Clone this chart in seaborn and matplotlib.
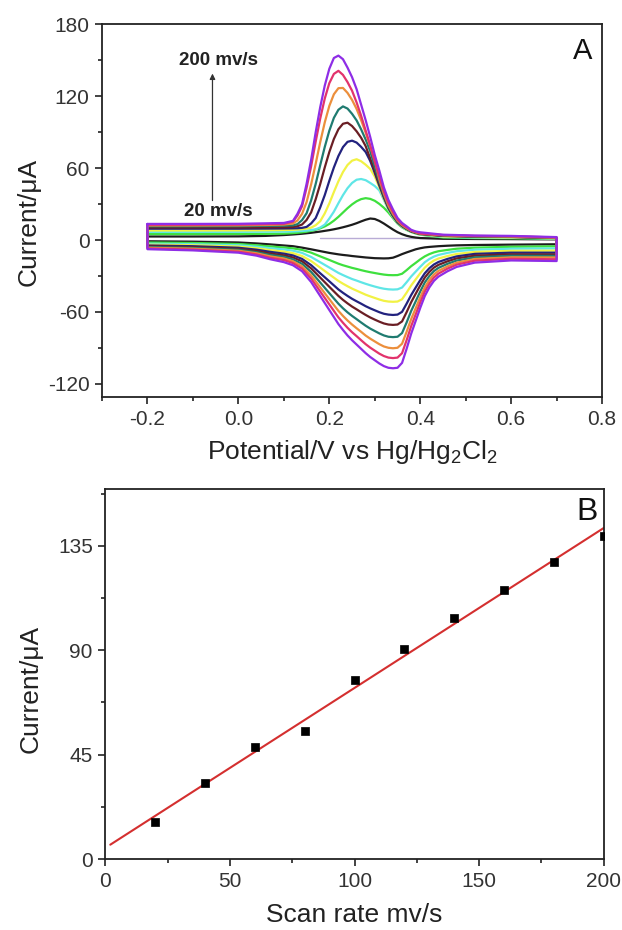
"""
Cyclic voltammograms at scan rates 20-200 mV/s (A) and the
peak current vs scan rate with a linear fit (B).
Saves out.png
"""

import numpy as np
import pandas as pd
import matplotlib
matplotlib.use("Agg")
import matplotlib.pyplot as plt
import seaborn as sns
from matplotlib.ticker import MultipleLocator, FormatStrFormatter

# -------------------------------
# Panel A data
# -------------------------------
SCAN_RATES = [20, 40, 60, 80, 100, 120, 140, 160, 180, 200]
CV_COLORS = ["#1c1c1c", "#3ee03e", "#5fe6e6", "#f2f244", "#22227e",
             "#6a1e24", "#1f7b70", "#ec8f3c", "#e2336c", "#8e2de6"]

# forward (anodic) sweep potentials, V
FWD_X = [-0.20, -0.10, 0.00, 0.06, 0.10,
         0.12, 0.13, 0.14, 0.15, 0.16, 0.17, 0.18, 0.19, 0.20, 0.21,
         0.22, 0.23, 0.24, 0.25, 0.26, 0.27, 0.28, 0.29, 0.30, 0.31,
         0.32, 0.33, 0.34, 0.35, 0.36, 0.37, 0.38, 0.39, 0.40,
         0.45, 0.52, 0.60, 0.70]

# reverse (cathodic) sweep potentials, V
REV_X = [0.70, 0.60, 0.52, 0.48, 0.46,
         0.44, 0.43, 0.42, 0.41, 0.40, 0.39, 0.38, 0.37, 0.36, 0.35,
         0.34, 0.33, 0.32, 0.31, 0.30, 0.29, 0.28, 0.27, 0.26, 0.25,
         0.24, 0.23, 0.22,
         0.20, 0.18, 0.16, 0.14, 0.12, 0.10,
         0.07, 0.04, 0.00, -0.10, -0.20]

FWD_20 = [3.0, 3.0, 3.1, 3.5, 4.2,
          4.7, 5.0, 5.3, 5.7, 6.1, 6.6, 7.1, 7.7, 8.3, 9.0, 9.8, 10.7, 11.7, 12.8, 14.1,
          15.6, 17.0, 18.0, 17.6, 16.0, 13.8, 11.3, 8.8, 6.6, 4.9, 3.6, 2.7, 2.1, 1.7,
          1.1, 0.9, 0.8, 0.6]
FWD_40 = [5.0, 5.0, 5.1, 5.2, 5.4,
          5.8, 6.1, 6.5, 7.0, 7.7, 8.6, 9.8, 11.4, 13.5, 16.2, 19.4, 23, 26.6, 29.8, 32.4,
          34.2, 35, 34.4, 32.8, 30.2, 27, 23, 18.3, 13.8, 10.6, 8.5, 6.8, 5.5, 4.5,
          2.2, 1.7, 1.5, 1.0]
FWD_60 = [6.8, 6.8, 6.9, 7.0, 7.1,
          7.2, 7.4, 7.6, 7.9, 8.4, 9.0, 10.5, 12.9, 18, 23.7, 30.8, 37.5, 43.3, 47.7, 50.4,
          51, 50, 47.7, 45.1, 41.5, 33.5, 25.3, 19, 14.2, 11, 8.8, 7.0, 5.8, 4.9,
          2.6, 2.1, 1.9, 1.3]
FWD_80 = [8.0, 8.0, 8.1, 8.2, 8.4,
          8.6, 8.8, 9.1, 9.6, 10.4, 12.4, 15.8, 22.3, 30.6, 40.1, 49.1, 56.8, 62.7, 66.3, 67.5,
          65.8, 62.9, 59.4, 53, 44, 34.5, 26, 19.5, 14.5, 11.3, 9.0, 7.1, 5.9, 5.0,
          3.0, 2.5, 2.2, 1.5]
FWD_100 = [9.5, 9.5, 9.5, 9.6, 9.7,
           9.8, 9.9, 10.2, 11, 13.9, 18.4, 27.3, 37.6, 49.5, 60.6, 70.2, 77.6, 82, 83, 81.4,
           77.8, 73.5, 66, 56, 45.5, 35.5, 26.6, 20, 14.8, 11.6, 9.2, 7.2, 6.0, 5.1,
           3.5, 2.9, 2.6, 1.7]
FWD_120 = [10.5, 10.5, 10.5, 10.6, 10.7,
           10.9, 11.6, 13, 16.8, 23.2, 34.1, 46.8, 60.7, 73.5, 84.4, 92.5, 97.1, 98, 95.2, 90.8,
           85.4, 78.4, 68, 58, 47, 36.5, 27.3, 20.5, 15.2, 11.9, 9.4, 7.4, 6.1, 5.2,
           3.6, 3.0, 2.7, 1.8]
FWD_140 = [11.5, 11.5, 11.6, 11.9, 12.1,
           12.3, 13.3, 16.7, 22.4, 33.2, 46.9, 62.6, 77.8, 91.3, 102, 108.8, 111.6, 109.8, 105.4, 99.9,
           92.4, 83.9, 74.2, 61, 49, 37.5, 28, 21, 15.6, 12.2, 9.6, 7.6, 6.3, 5.4,
           3.8, 3.1, 2.8, 1.9]
FWD_160 = [12.2, 12.2, 12.3, 12.6, 13.0,
           13.8, 16.4, 21.9, 31.7, 46.5, 63.7, 81.8, 98.3, 112, 121.7, 126.8, 127, 122.9, 117, 109.5,
           100.1, 89.6, 78.3, 66.6, 51, 39, 29, 22, 16.3, 12.6, 10, 7.8, 6.5, 5.5,
           4.0, 3.3, 3.0, 2.0]
FWD_180 = [12.8, 12.8, 12.9, 13.3, 13.6,
           15.4, 20.5, 28.2, 43.6, 61.6, 82.2, 101.5, 118.2, 131, 138.7, 141.3, 137.9, 131.9, 124.7, 114.9,
           103.7, 91.3, 79, 65.2, 52.8, 40.5, 30.6, 23.4, 16.9, 13.1, 10.5, 7.9, 6.7, 5.4,
           4.2, 3.5, 3.2, 2.2]
FWD_200 = [13.5, 13.5, 13.6, 14.0, 14.3,
           16, 22, 30, 47, 67, 90, 111, 129, 143, 152, 154, 151, 144, 136, 126,
           113, 100, 86, 71, 58, 44, 33.5, 25.6, 18.5, 14.3, 11.5, 8.6, 7.2, 6.5,
           4.5, 3.8, 3.5, 2.5]

REV_20 = [-3.5, -3.8, -4.1, -4.4, -4.7,
          -5.1, -5.4, -5.7, -6.1, -6.8, -7.7, -9, -10.3, -11.7, -13.3, -14.7, -15.2, -15.3,
          -15.2, -15.1, -14.8, -14.5, -14.1, -13.7, -13.3, -12.8, -12.4, -11.9,
          -10.7, -9.2, -7.7, -6.3, -5.1, -4.5,
          -3.6, -2.8, -2.0, -1.3, -1.0]
REV_40 = [-5.2, -5.6, -6.3, -7.2, -8.2,
          -9.3, -10.3, -11.7, -13.6, -16.1, -19, -21.8, -25.1, -28.1, -29.2, -29.3, -29.2, -28.8,
          -28.2, -27.5, -26.8, -26, -25.1, -24.1, -23.2, -22.1, -21, -19.7,
          -16.6, -13.6, -10.5, -8.2, -6.9, -6.2,
          -5.3, -4.3, -3.3, -2.4, -2.0]
REV_60 = [-7.0, -7.2, -8.0, -9.3, -10.7,
          -12.4, -13.8, -15.8, -18.5, -22.3, -26.3, -30.4, -35.2, -39.6, -41.1, -41.3, -41.1, -40.6,
          -39.8, -38.8, -37.7, -36.5, -35.2, -33.8, -32.5, -30.9, -29.2, -27.4,
          -22.9, -18.5, -14.1, -10.7, -8.8, -7.8,
          -6.8, -5.5, -4.3, -3.4, -3.0]
REV_80 = [-8.8, -9.0, -9.9, -11.6, -13.3,
          -15.4, -17.1, -19.6, -23, -27.7, -32.8, -37.9, -43.9, -49.4, -51.3, -51.5, -51.3, -50.7,
          -49.6, -48.3, -47, -45.6, -43.9, -42.2, -40.5, -38.5, -36.4, -34.1,
          -28.6, -23, -17.5, -13.3, -10.9, -9.6,
          -8.4, -6.8, -5.4, -4.3, -3.8]
REV_100 = [-10.5, -10.5, -11.5, -13.6, -15.7,
           -18.3, -20.4, -23.5, -27.7, -33.4, -39.6, -45.9, -53.1, -59.9, -62.2, -62.5, -62.2, -61.5,
           -60.2, -58.6, -57, -55.2, -53.1, -51.1, -49, -46.6, -44, -41.2,
           -34.4, -27.7, -20.9, -15.7, -12.8, -11.3,
           -9.8, -8.0, -6.4, -5.1, -4.5]
REV_120 = [-12.0, -11.9, -13, -15.3, -17.7,
           -20.7, -23, -26.6, -31.3, -37.8, -44.8, -51.9, -60.2, -67.9, -70.5, -70.8, -70.5, -69.6,
           -68.1, -66.4, -64.6, -62.5, -60.2, -57.8, -55.5, -52.8, -49.9, -46.6,
           -39, -31.3, -23.6, -17.7, -14.5, -12.7,
           -11.2, -9.1, -7.3, -5.9, -5.2]
REV_140 = [-13.2, -13.1, -14.4, -17.1, -19.8,
           -23.2, -25.9, -30, -35.4, -42.9, -51.1, -59.2, -68.8, -77.6, -80.7, -81, -80.7, -79.6,
           -77.9, -75.9, -73.9, -71.5, -68.8, -66, -63.3, -60.3, -56.9, -53.1,
           -44.3, -35.4, -26.6, -19.8, -16.1, -14,
           -12.4, -10.1, -8.1, -6.6, -5.8]
REV_160 = [-14.5, -14.4, -15.8, -18.9, -21.9,
           -25.7, -28.7, -33.3, -39.4, -47.7, -56.9, -66, -76.6, -86.5, -89.9, -90.3, -89.9, -88.8,
           -86.9, -84.6, -82.3, -79.7, -76.6, -73.6, -70.5, -67.1, -63.3, -59.1,
           -49.3, -39.4, -29.5, -21.9, -17.7, -15.4,
           -13.6, -11.0, -8.9, -7.2, -6.4]
REV_180 = [-16.0, -15.6, -17.2, -20.5, -23.8,
           -28, -31.3, -36.3, -42.9, -52, -62, -71.9, -83.6, -94.4, -98.1, -98.5, -98.1, -96.8,
           -94.8, -92.3, -89.8, -86.9, -83.6, -80.2, -76.9, -73.2, -69, -64.5,
           -53.7, -42.9, -32.1, -23.8, -19.2, -16.7,
           -14.8, -12.0, -9.7, -7.9, -7.0]
REV_200 = [-17.5, -17.0, -18.8, -22.4, -26.0,
           -30.5, -34.1, -39.5, -46.7, -56.6, -67.4, -78.2, -90.8, -102.5, -106.6, -107, -106.6, -105.2,
           -103, -100.3, -97.6, -94.4, -90.8, -87.2, -83.6, -79.6, -75, -70.1,
           -58.4, -46.7, -35, -26, -21, -18.4,
           -16, -13, -10.5, -8.6, -7.6]

FWD_CURRENT = [FWD_20, FWD_40, FWD_60, FWD_80, FWD_100,
               FWD_120, FWD_140, FWD_160, FWD_180, FWD_200]
REV_CURRENT = [REV_20, REV_40, REV_60, REV_80, REV_100,
               REV_120, REV_140, REV_160, REV_180, REV_200]

# faint reference line near zero
BASE_X = [0.18, 0.70]
BASE_Y = [1.4, 1.4]

# -------------------------------
# Panel B data
# -------------------------------
RATE_B = [20, 40, 60, 80, 100, 120, 140, 160, 180, 200]
PEAK_B = [16.1, 32.6, 48.1, 55.0, 77.1, 90.6, 103.8, 116.1, 128.0, 139.2]
FIT_X = [2, 200]


def style_axes(ax):
    for sp in ax.spines.values():
        sp.set_visible(True)
        sp.set_linewidth(1.3)
        sp.set_color("#222222")
    ax.tick_params(which="both", direction="out", top=False, right=False,
                   colors="#222222", labelcolor="#333333", labelsize=15, width=1.2)
    ax.tick_params(which="major", length=5, pad=4)
    ax.tick_params(which="minor", length=3)


def main():
    sns.set_style("ticks")
    plt.rcParams["font.family"] = ["Liberation Sans", "DejaVu Sans"]
    plt.rcParams["axes.unicode_minus"] = False
    plt.rcParams["mathtext.fontset"] = "custom"
    plt.rcParams["mathtext.rm"] = "Liberation Sans"
    plt.rcParams["mathtext.default"] = "regular"

    fig = plt.figure(figsize=(6.22, 9.30), dpi=100)
    ax1 = fig.add_axes([0.164, 0.5731, 0.804, 0.4006])
    ax2 = fig.add_axes([0.1693, 0.0763, 0.8013, 0.3978])

    # ---- A: closed CV loops ----
    rows = []
    for rate, fwd, rev in zip(SCAN_RATES, FWD_CURRENT, REV_CURRENT):
        xs = FWD_X + REV_X + FWD_X[:1]
        ys = fwd + rev + fwd[:1]
        for i, (x, y) in enumerate(zip(xs, ys)):
            rows.append((rate, i, x, y))
    cv = pd.DataFrame(rows, columns=["rate", "step", "potential", "current"])

    sns.lineplot(x=BASE_X, y=BASE_Y, color="#b9acd6", lw=1.0, ax=ax1)
    sns.lineplot(data=cv, x="potential", y="current", hue="rate",
                 palette=dict(zip(SCAN_RATES, CV_COLORS)), sort=False,
                 estimator=None, lw=1.6, legend=False, ax=ax1)

    ax1.set_xlim(-0.3, 0.8)
    ax1.set_ylim(-131, 180)
    ax1.xaxis.set_major_locator(MultipleLocator(0.2))
    ax1.xaxis.set_minor_locator(MultipleLocator(0.1))
    ax1.xaxis.set_major_formatter(FormatStrFormatter("%.1f"))
    ax1.yaxis.set_major_locator(MultipleLocator(60))
    ax1.yaxis.set_minor_locator(MultipleLocator(30))
    ax1.yaxis.set_major_formatter(FormatStrFormatter("%d"))
    style_axes(ax1)
    ax1.set_xlabel("Potential/V vs Hg/Hg$_2$Cl$_2$", fontsize=19, color="#222222", labelpad=7)
    ax1.set_ylabel("Current/μA", fontsize=19, color="#222222", labelpad=5)
    ax1.yaxis.label.set_y(0.47)

    ax1.annotate("", xy=(-0.057, 139), xytext=(-0.057, 33),
                 arrowprops=dict(arrowstyle="-|>", lw=0.9, color="#333333",
                                 mutation_scale=8, shrinkA=0, shrinkB=0))
    ax1.text(-0.043, 150, "200 mv/s", fontsize=13.5, fontweight="bold",
             ha="center", va="center", color="#222222")
    ax1.text(-0.045, 24, "20 mv/s", fontsize=13.5, fontweight="bold",
             ha="center", va="center", color="#222222")
    ax1.text(0.961, 0.929, "A", transform=ax1.transAxes, fontsize=21,
             ha="center", va="center", color="#111111")

    # ---- B: peak current vs scan rate ----
    slope, intercept = np.polyfit(RATE_B, PEAK_B, 1)
    fit_y = [slope * x + intercept for x in FIT_X]
    sns.lineplot(x=FIT_X, y=fit_y, color="#d42f2f", lw=1.5, ax=ax2)
    sns.scatterplot(x=RATE_B, y=PEAK_B, marker="s", s=30, color="black",
                    edgecolor="black", linewidth=0.5, zorder=3, ax=ax2)

    ax2.set_xlim(0, 200)
    ax2.set_ylim(0, 159.5)
    ax2.xaxis.set_major_locator(MultipleLocator(50))
    ax2.xaxis.set_minor_locator(MultipleLocator(25))
    ax2.yaxis.set_major_locator(MultipleLocator(45))
    ax2.yaxis.set_minor_locator(MultipleLocator(22.5))
    style_axes(ax2)
    ax2.set_xlabel("Scan rate mv/s", fontsize=19, color="#222222", labelpad=9)
    ax2.set_ylabel("Current/μA", fontsize=19, color="#222222", labelpad=11)
    ax2.yaxis.label.set_y(0.46)
    ax2.text(0.9665, 0.9386, "B", transform=ax2.transAxes, fontsize=23,
             ha="center", va="center", color="#111111")

    fig.savefig("out.png", dpi=100)


if __name__ == "__main__":
    main()
